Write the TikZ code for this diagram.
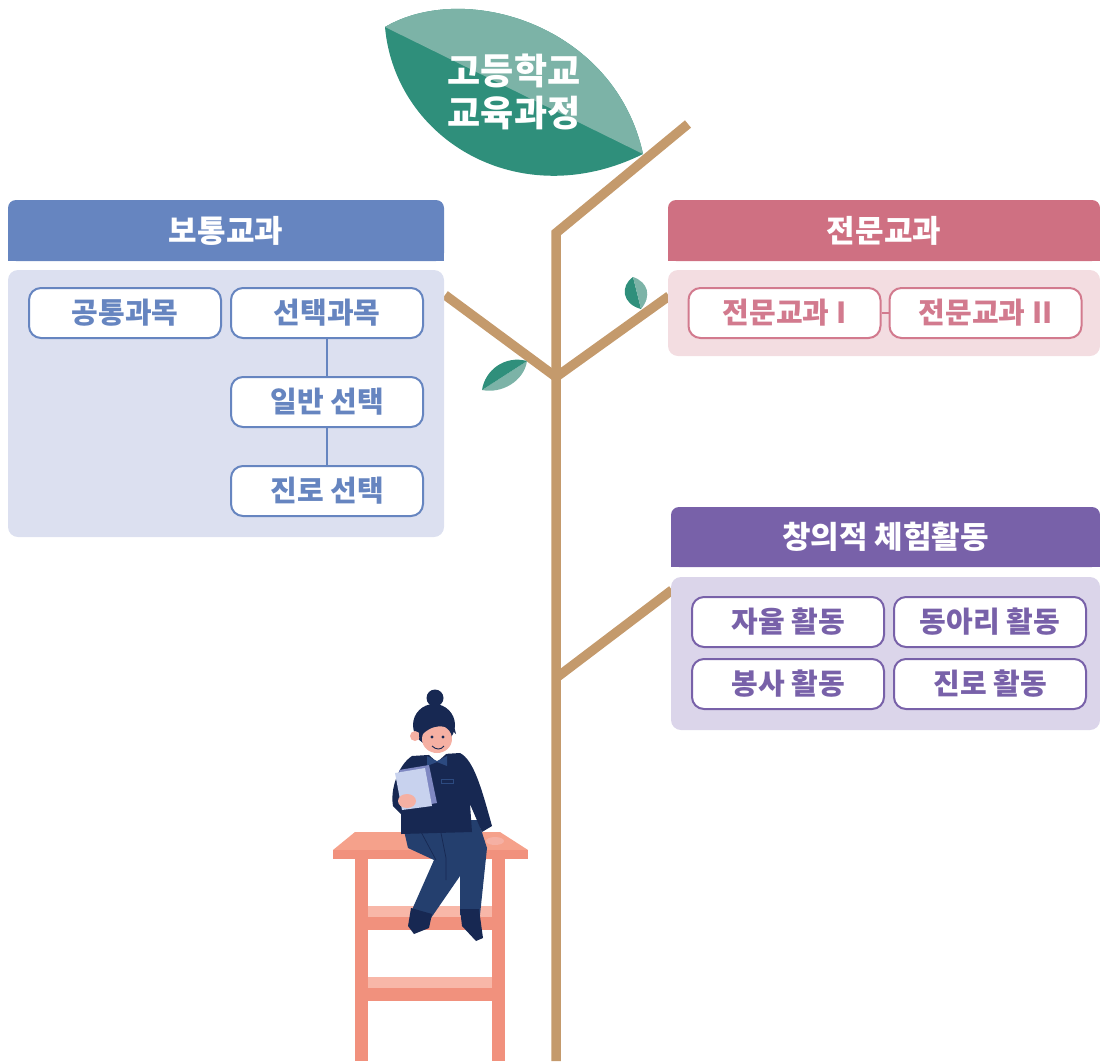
\documentclass[tikz,border=0pt]{standalone}
\usepackage{fontspec}
\setmainfont{Noto Sans CJK KR}
\usetikzlibrary{positioning}

\definecolor{genHd}{HTML}{6685C0}
\definecolor{genBg}{HTML}{DCE0F0}
\definecolor{speHd}{HTML}{CF7082}
\definecolor{speBg}{HTML}{F3DDE1}
\definecolor{speLn}{HTML}{D27A8E}
\definecolor{actHd}{HTML}{7861A9}
\definecolor{actBg}{HTML}{DBD5EA}
\definecolor{leafDk}{HTML}{2F8F7B}
\definecolor{leafLt}{HTML}{7CB3A7}
\definecolor{bark}{HTML}{C49A6C}
\definecolor{tableTop}{HTML}{F5A18B}
\definecolor{tableCol}{HTML}{F1917D}
\definecolor{tableLt}{HTML}{F8B7A8}
\definecolor{navy}{HTML}{172852}
\definecolor{jeans}{HTML}{243F6E}
\definecolor{skin}{HTML}{F5B0A3}
\definecolor{paper}{HTML}{C8D2EE}
\definecolor{paperBk}{HTML}{7F88C2}
\definecolor{bow}{HTML}{2C4A80}

\begin{document}
\begin{tikzpicture}[x=1pt, y=-1pt,
  hdbox/.style={fill=#1, rounded corners=8pt, minimum height=61pt},
  hdtext/.style={text=white, font=\fontsize{31}{33}\selectfont\bfseries},
  panel/.style={fill=#1, rounded corners=10pt},
  itembox/.style={draw=#1, line width=2pt, fill=white, rounded corners=12pt,
                  minimum width=192pt, minimum height=50pt, text=#1,
                  font=\fontsize{29}{31}\selectfont\bfseries},
  link/.style={draw=#1, line width=2pt},
  branch/.style={draw=bark, line width=9.5pt}]

\useasboundingbox (0,0) rectangle (1100,1061);

%% stem and branches
\draw[branch] (556,1061) -- (556,233) -- (688,124);
\draw[branch] (445,295) -- (556,377) -- (669,296);
\draw[branch] (556,678) -- (672,590);

%% big leaf on top
\fill[leafDk] (385,27) .. controls (465,-20) and (615,25) .. (643,154)
  .. controls (520,215) and (395,140) .. (385,27) -- cycle;
\fill[leafLt] (385,27) .. controls (465,-20) and (615,25) .. (643,154) -- cycle;
\node[text=white, align=center, font=\fontsize{36}{42}\selectfont\bfseries]
  (title) at (514,92) {고등학교\\교육과정};

%% small leaves
\fill[leafLt] (482,390) .. controls (502,394) and (524,381) .. (527,361) -- cycle;
\fill[leafDk] (482,390) .. controls (485,370) and (505,355) .. (527,361) -- cycle;
\fill[leafDk] (633,277) .. controls (620,286) and (622,304) .. (641,309) -- cycle;
\fill[leafLt] (633,277) .. controls (648,282) and (652,296) .. (641,309) -- cycle;

%% general subjects
\node[hdbox=genHd, minimum width=436pt] (hdGen) at (226,230.5) {};
\fill[genHd] (hdGen.west) rectangle (hdGen.south east);
\node[hdtext] (hdGenTxt) at (hdGen) {보통교과};
\node[panel=genBg, minimum width=436pt, minimum height=267pt] (bdGen) at (226,403.5) {};
\node[itembox=genHd] (gen1) at (125,313) {공통과목};
\node[itembox=genHd, right=8pt of gen1] (gen2) {선택과목};
\node[itembox=genHd, below=37pt of gen2] (gen3) {일반 선택};
\node[itembox=genHd, below=37pt of gen3] (gen4) {진로 선택};
\draw[link=genHd] (gen2) -- (gen3);
\draw[link=genHd] (gen3) -- (gen4);

%% specialised subjects
\node[hdbox=speHd, minimum width=432pt] (hdSpe) at (884,230.5) {};
\fill[speHd] (hdSpe.west) rectangle (hdSpe.south east);
\node[hdtext] (hdSpeTxt) at (hdSpe) {전문교과};
\node[panel=speBg, minimum width=432pt, minimum height=86pt] (bdSpe) at (884,313) {};
\node[itembox=speLn] (spe1) at (784.5,313) {전문교과 I};
\node[itembox=speLn, right=7pt of spe1] (spe2) {전문교과 II};
\draw[link=speLn] (spe1) -- (spe2);

%% creative activities
\node[hdbox=actHd, minimum width=429pt, minimum height=60pt] (hdAct) at (885.5,537) {};
\fill[actHd] (hdAct.west) rectangle (hdAct.south east);
\node[hdtext] (hdActTxt) at (hdAct) {창의적 체험활동};
\node[panel=actBg, minimum width=429pt, minimum height=153pt] (bdAct) at (885.5,653.5) {};
\node[itembox=actHd] (act1) at (788,622) {자율 활동};
\node[itembox=actHd, right=8pt of act1] (act2) {동아리 활동};
\node[itembox=actHd, below=10pt of act1] (act3) {봉사 활동};
\node[itembox=actHd, below=10pt of act2] (act4) {진로 활동};

%% table
\fill[tableTop] (355,832) -- (500,832) -- (528,850) -- (333,850) -- cycle;
\fill[tableCol] (333,850) rectangle (528,859);
\fill[tableCol] (355,859) rectangle (368,1061);
\fill[tableCol] (492,859) rectangle (505,1061);
\foreach \y in {906,977}{
  \fill[tableLt] (368,\y) rectangle (492,\y+11);
  \fill[tableCol] (368,\y+11) rectangle (492,\y+24);
}

%% student on the table
% pants and shoes
\fill[jeans] (402,822) -- (478,820) -- (487,848) -- (480,915) -- (460,915)
  -- (460,876) -- (431,918) -- (411,912) -- (434,860) -- (408,848) -- cycle;
\draw[navy, line width=0.7pt] (440,828) -- (446,858) -- (446,880);
\draw[navy, line width=0.7pt] (420,830) -- (436,860);
\fill[navy] (411,908) -- (432,914) -- (429,928) -- (414,934) -- (408,926) -- cycle;
\fill[navy] (460,909) -- (479,909) -- (483,938) -- (476,941) -- (462,926) -- cycle;
% jacket
\fill[navy] (412,756) -- (460,753) .. controls (474,760) and (482,790) .. (492,826)
  -- (482,832) -- (470,804) -- (472,832) -- (401,834) -- (401,814) -- (393,806)
  .. controls (390,790) and (398,765) .. (412,756) -- cycle;
\fill[skin] (495,841) ellipse [x radius=9, y radius=4];
\fill[white] (427,753) -- (447,753) -- (437,762) -- cycle;
\fill[bow] (427,756) -- (437,761) -- (447,756) -- (447,766) -- (437,762) -- (427,766) -- cycle;
\draw[bow, line width=0.8pt] (441,779) rectangle (453,783);
% head
\fill[navy] (435,698) circle [radius=8.5];
\fill[navy] (434,725) circle [radius=21];
\fill[skin] (415,736) circle [radius=5];
\fill[skin] (437,739) ellipse [x radius=15, y radius=14];
\fill[navy] (419,738) .. controls (418,714) and (452,708) .. (456,734)
  .. controls (448,724) and (432,722) .. (419,738) -- cycle;
\fill[navy] (432,737) circle [radius=1.7];
\fill[navy] (443,737) circle [radius=1.7];
\draw[navy, line width=0.9pt] (432,746) .. controls (436,750) and (441,750) .. (444,746);
% notes and hand
\fill[paperBk] (399,770) -- (429,765) -- (437,803) -- (407,808) -- cycle;
\fill[paper] (395,773) -- (425,768) -- (432,806) -- (402,810) -- cycle;
\fill[skin] (407,801) ellipse [x radius=9, y radius=7];
\end{tikzpicture}
\end{document}
